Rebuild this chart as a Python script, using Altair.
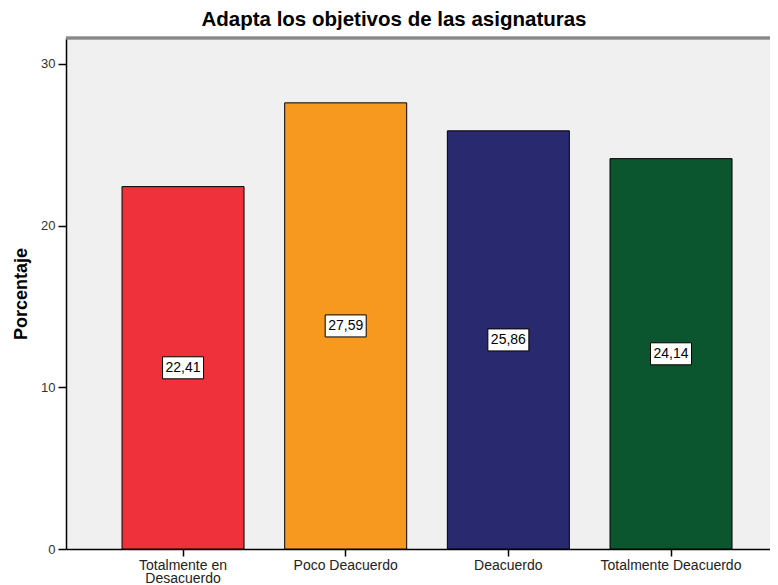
import altair as alt
import pandas as pd

categories = ["Totalmente en Desacuerdo", "Poco Deacuerdo", "Deacuerdo", "Totalmente Deacuerdo"]
values = [22.41, 27.59, 25.86, 24.14]
colors = ["#EE313B", "#F7991F", "#29296F", "#0B552F"]

df = pd.DataFrame({
    "cat": categories,
    "val": values,
    "half": [v / 2 for v in values],
    "lab": [f"{v:.2f}".replace(".", ",") for v in values],
})

FONT = "Liberation Sans"
W, H = 704, 511

xscale = alt.Scale(domain=categories, paddingInner=0.25, paddingOuter=0.289, align=0.596)
yscale = alt.Scale(domain=[0, 31.6], nice=False, zero=True)

x = alt.X("cat:N", scale=xscale, sort=categories, title=None,
          axis=alt.Axis(labelAngle=0, labelFont=FONT, labelFontSize=14, labelColor="#222222",
                        tickSize=7, tickColor="black", tickWidth=1.5, domainColor="black", domainWidth=1.5,
                        labelPadding=2, labelLineHeight=13,
                        labelExpr="datum.value == 'Totalmente en Desacuerdo' ? ['Totalmente en', 'Desacuerdo'] : datum.value"))

bars = alt.Chart(df).mark_bar(stroke="black", strokeWidth=1).encode(
    x=x,
    y=alt.Y("val:Q", scale=yscale, title="Porcentaje",
            axis=alt.Axis(values=[0, 10, 20, 30], grid=False, labelFont=FONT, labelFontSize=13,
                          labelColor="#333333", tickSize=8, tickColor="black", tickWidth=1.5,
                          domainColor="black", domainWidth=1.5, labelPadding=3,
                          titleFont=FONT, titleFontSize=18, titleFontWeight="bold",
                          titleColor="black", titlePadding=10)),
    color=alt.Color("cat:N", scale=alt.Scale(domain=categories, range=colors), legend=None),
)

boxes = alt.Chart(df).mark_point(
    shape="M-1,-0.537L1,-0.537L1,0.537L-1,0.537Z", size=41 * 41, filled=True,
    fill="white", stroke="black", strokeWidth=1, opacity=1
).encode(x=alt.X("cat:N", scale=xscale, sort=categories), y=alt.Y("half:Q", scale=yscale))

texts = alt.Chart(df).mark_text(font=FONT, fontSize=14, color="black", baseline="middle").encode(
    x=alt.X("cat:N", scale=xscale, sort=categories), y=alt.Y("half:Q", scale=yscale), text="lab:N"
)

top = alt.Chart(df).mark_rule(color="#888888", strokeWidth=2.5).encode(
    x=alt.value(0), x2=alt.value(W), y=alt.value(0)
)

chart = alt.layer(bars, boxes, texts, top).properties(
    width=W, height=H,
    background="white",
    title=alt.TitleParams("Adapta los objetivos de las asignaturas", font=FONT, fontSize=20.5,
                          fontWeight="bold", color="black", dx=-24, offset=6),
    autosize=alt.AutoSizeParams(type="none"),
    padding={"left": 58, "top": 30, "right": 0, "bottom": 36},
).configure_view(fill="#F0F0F0", stroke=None)

chart.save("out.html", embed_options={"renderer": "svg", "actions": False})
